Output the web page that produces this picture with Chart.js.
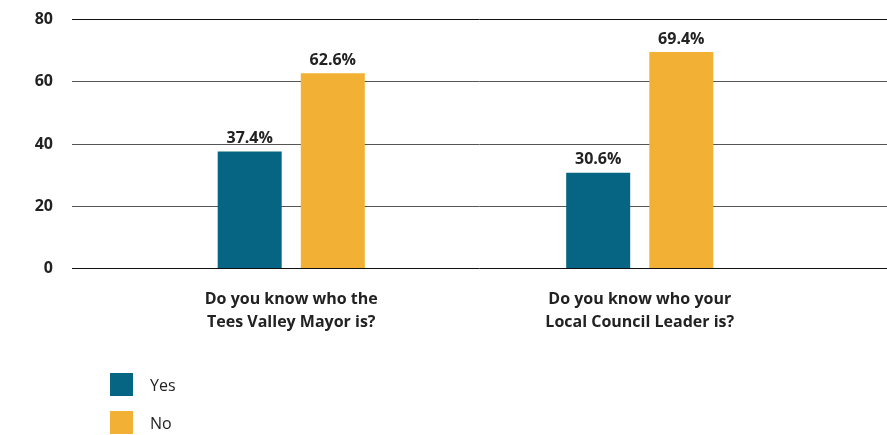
<!DOCTYPE html>
<html>
  <head>
    <title>Mayor and Council Leader awareness</title>
    <script src="https://cdn.jsdelivr.net/npm/chart.js"></script>
    <style>
      html, body { margin: 0; padding: 0; background: #fff; }
      #wrap { position: relative; width: 887px; height: 435px; }
      #legend { position: absolute; left: 110px; top: 373px; font-family: "Open Sans", sans-serif; font-size: 16px; color: #222; }
      .item { display: flex; align-items: center; height: 23px; margin-bottom: 15px; }
      .swatch { width: 23px; height: 23px; margin-right: 17px; }
    </style>
  </head>
  <body>
    <div id="wrap">
      <canvas id="awareness" width="887" height="435"></canvas>
      <div id="legend"></div>
    </div>

    <script>
      // questions on the x axis (two lines each)
      const questions = [
        ["Do you know who the", "Tees Valley Mayor is?"],
        ["Do you know who your", "Local Council Leader is?"],
      ];
      const yesValues = [37.4, 30.6];
      const noValues = [62.6, 69.4];
      const yTicks = [0, 20, 40, 60, 80];

      const BLUE = "#066582";
      const ORANGE = "#f2b134";
      const TEXT = "#222";
      const FONT = "'Open Sans', sans-serif";

      // horizontal rules and their numbers, running wider than the plot area
      const wideGrid = {
        id: "wideGrid",
        beforeDatasetsDraw(chart) {
          const ctx = chart.ctx;
          const y = chart.scales.y;
          ctx.save();
          ctx.lineWidth = 1;
          ctx.font = "bold 16px " + FONT;
          ctx.fillStyle = TEXT;
          ctx.textAlign = "right";
          ctx.textBaseline = "middle";
          yTicks.forEach((v) => {
            const py = Math.round(y.getPixelForValue(v)) + 0.5;
            ctx.strokeStyle = v === 0 || v === 80 ? "#111" : "#555";
            ctx.beginPath();
            ctx.moveTo(72, py);
            ctx.lineTo(887, py);
            ctx.stroke();
            ctx.fillText(String(v), 53, py);
          });
          ctx.restore();
        },
      };

      // percentage above each bar
      const valueLabels = {
        id: "valueLabels",
        afterDatasetsDraw(chart) {
          const ctx = chart.ctx;
          ctx.save();
          ctx.font = "bold 16px " + FONT;
          ctx.fillStyle = TEXT;
          ctx.textAlign = "center";
          ctx.textBaseline = "bottom";
          chart.data.datasets.forEach((ds, i) => {
            chart.getDatasetMeta(i).data.forEach((bar, j) => {
              ctx.fillText(ds.data[j].toFixed(1) + "%", bar.x, bar.y - 5);
            });
          });
          ctx.restore();
        },
      };

      const chart = new Chart(document.getElementById("awareness"), {
        type: "bar",
        data: {
          labels: questions,
          datasets: [
            { label: "Yes", data: yesValues, backgroundColor: BLUE },
            { label: "No", data: noValues, backgroundColor: ORANGE },
          ],
        },
        options: {
          responsive: false,
          animation: false,
          layout: { padding: { top: 19, right: 73, left: 0, bottom: 0 } },
          datasets: {
            bar: { categoryPercentage: 0.477, barPercentage: 0.77 },
          },
          plugins: {
            legend: { display: false },
            tooltip: { enabled: false },
          },
          scales: {
            x: {
              grid: { display: false, drawTicks: false },
              border: { display: false },
              ticks: {
                color: TEXT,
                font: { family: FONT, size: 16, weight: "bold", lineHeight: 1.45 },
                padding: 20,
                maxRotation: 0,
              },
              afterFit(scale) {
                scale.height = 167;
              },
            },
            y: {
              min: 0,
              max: 80,
              grid: { display: false, drawTicks: false },
              border: { display: false },
              ticks: { display: false, stepSize: 20 },
              afterFit(scale) {
                scale.width = 117;
              },
            },
          },
        },
        plugins: [wideGrid, valueLabels],
      });

      // legend stacked vertically under the chart
      const legend = document.getElementById("legend");
      chart.data.datasets.forEach((ds) => {
        const item = document.createElement("div");
        item.className = "item";
        item.innerHTML = `<span class="swatch" style="background:${ds.backgroundColor}"></span>${ds.label}`;
        legend.appendChild(item);
      });
    </script>
  </body>
</html>
